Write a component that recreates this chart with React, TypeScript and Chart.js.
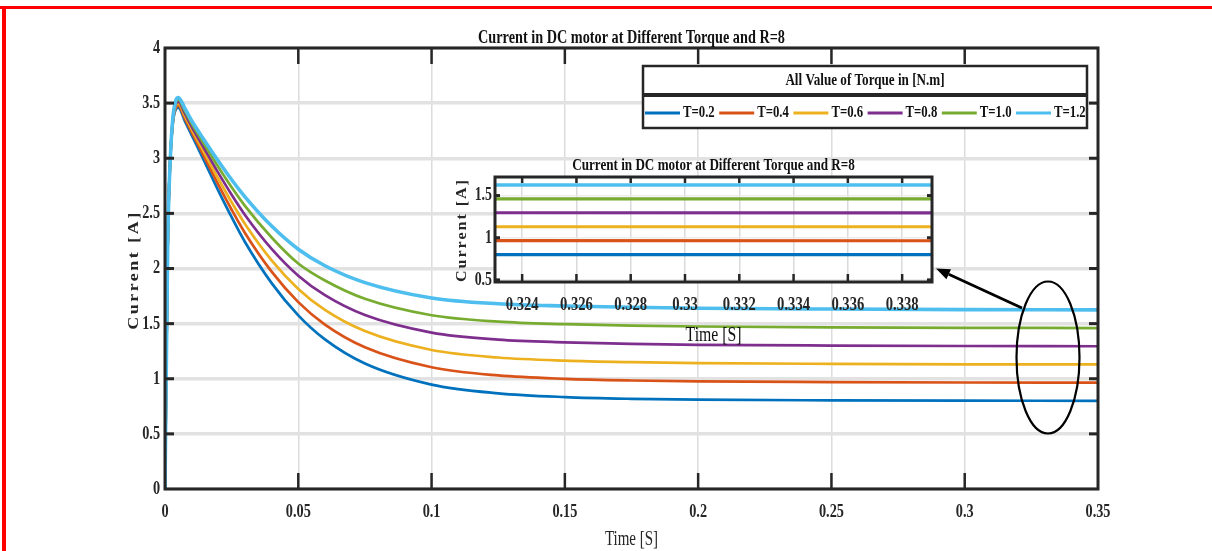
import React, { useEffect, useRef } from 'react';
import { Chart, registerables } from 'chart.js';

Chart.register(...registerables);

// ---------------- DATA ----------------
const timeS = [0, 0.001, 0.002, 0.003, 0.004, 0.005, 0.0075, 0.01, 0.015, 0.02, 0.025, 0.03, 0.04, 0.05, 0.06, 0.075, 0.1, 0.125, 0.15, 0.175, 0.2, 0.25, 0.3, 0.35];
const currentT02 = [0, 2.2, 3.0, 3.33, 3.44, 3.46, 3.335, 3.21, 2.96, 2.706, 2.465, 2.24, 1.867, 1.575, 1.357, 1.138, 0.947, 0.868, 0.834, 0.818, 0.81, 0.804, 0.801, 0.8];
const currentT04 = [0, 2.2, 3.0, 3.34, 3.456, 3.478, 3.358, 3.236, 2.999, 2.76, 2.533, 2.322, 1.971, 1.695, 1.491, 1.285, 1.104, 1.03, 0.999, 0.984, 0.976, 0.97, 0.966, 0.964];
const currentT06 = [0, 2.2, 3.0, 3.35, 3.472, 3.496, 3.381, 3.262, 3.038, 2.814, 2.601, 2.404, 2.074, 1.815, 1.624, 1.432, 1.261, 1.193, 1.164, 1.15, 1.142, 1.135, 1.131, 1.13];
const currentT08 = [0, 2.2, 3.0, 3.36, 3.488, 3.514, 3.404, 3.288, 3.077, 2.867, 2.669, 2.486, 2.178, 1.935, 1.758, 1.578, 1.419, 1.355, 1.33, 1.316, 1.308, 1.301, 1.297, 1.295];
const currentT10 = [0, 2.2, 3.0, 3.37, 3.504, 3.532, 3.427, 3.314, 3.116, 2.921, 2.737, 2.568, 2.281, 2.045, 1.891, 1.725, 1.576, 1.518, 1.495, 1.482, 1.474, 1.466, 1.462, 1.46];
const currentT12 = [0, 2.2, 3.0, 3.38, 3.52, 3.55, 3.45, 3.34, 3.155, 2.975, 2.805, 2.65, 2.385, 2.175, 2.025, 1.872, 1.733, 1.68, 1.66, 1.648, 1.64, 1.632, 1.627, 1.625];

const torqueLabels = ['T=0.2', 'T=0.4', 'T=0.6', 'T=0.8', 'T=1.0', 'T=1.2'];
const seriesColors = ['#0072BD', '#D95319', '#EDB120', '#7E2F8E', '#77AC30', '#4DBEEE'];

const xTicksMain = [0, 0.05, 0.1, 0.15, 0.2, 0.25, 0.3, 0.35];
const xTickLabelsMain = ['0', '0.05', '0.1', '0.15', '0.2', '0.25', '0.3', '0.35'];
const yTicksMain = [0, 0.5, 1, 1.5, 2, 2.5, 3, 3.5, 4];
const yTickLabelsMain = ['0', '0.5', '1', '1.5', '2', '2.5', '3', '3.5', '4'];

const xTicksInset = [0.324, 0.326, 0.328, 0.33, 0.332, 0.334, 0.336, 0.338];
const xTickLabelsInset = ['0.324', '0.326', '0.328', '0.33', '0.332', '0.334', '0.336', '0.338'];
const yTicksInset = [0.5, 1, 1.5];
const yTickLabelsInset = ['0.5', '1', '1.5'];

const chartTitle = 'Current in DC motor at Different Torque and R=8';
const xAxisTitle = 'Time [S]';
const yAxisTitle = 'Current [A]';
const legendTitle = 'All Value of Torque in [N.m]';

// ---------------- DRAW HELPERS ----------------
const W = 1212;
const H = 551;
const SX = 0.75;
const FONT = '"Liberation Serif", "Times New Roman", serif';
const AX = '#262626';

type TOpts = { bold?: boolean; align?: CanvasTextAlign; baseline?: CanvasTextBaseline; rot?: number; ls?: number; color?: string; sx?: number };

function drawText(ctx: CanvasRenderingContext2D, s: string, x: number, y: number, size: number, o: TOpts = {}) {
  ctx.save();
  ctx.translate(x, y);
  ctx.scale(o.sx ?? SX, 1);
  if (o.rot) ctx.rotate(o.rot);
  ctx.font = `${o.bold ? 'bold ' : ''}${size}px ${FONT}`;
  ctx.textAlign = o.align ?? 'center';
  ctx.textBaseline = o.baseline ?? 'middle';
  (ctx as any).letterSpacing = `${o.ls ?? 0}px`;
  ctx.fillStyle = o.color ?? '#111';
  ctx.fillText(s, 0, 0);
  ctx.restore();
}

function line(ctx: CanvasRenderingContext2D, x1: number, y1: number, x2: number, y2: number, lw: number, color: string) {
  ctx.save();
  ctx.beginPath();
  ctx.moveTo(x1, y1);
  ctx.lineTo(x2, y2);
  ctx.lineWidth = lw;
  ctx.strokeStyle = color;
  ctx.stroke();
  ctx.restore();
}

function makeDatasets(width: number, lastWidth: number) {
  const all = [currentT02, currentT04, currentT06, currentT08, currentT10, currentT12];
  return all.map((vals, i) => ({
    label: torqueLabels[i],
    data: timeS.map((t, j) => ({ x: t, y: vals[j] })),
    borderColor: seriesColors[i],
    backgroundColor: seriesColors[i],
    borderWidth: i === 5 ? lastWidth : width,
    pointRadius: 0,
    cubicInterpolationMode: 'monotone' as const,
    fill: false,
    order: 5 - i,
  }));
}

const mainDecor = {
  id: 'mainDecor',
  afterDraw(chart: any) {
    const ctx: CanvasRenderingContext2D = chart.ctx;
    const { left, right, top, bottom } = chart.chartArea;
    const xs = chart.scales.x;
    const ys = chart.scales.y;

    // red page frame
    ctx.save();
    ctx.fillStyle = '#ff0000';
    ctx.fillRect(0, 6, W, 3);
    ctx.fillRect(2, 6, 4, H - 6);
    ctx.restore();

    // tick marks
    xTicksMain.forEach((v, i) => {
      if (i === 0 || i === xTicksMain.length - 1) return;
      const px = xs.getPixelForValue(v);
      line(ctx, px, bottom, px, bottom - 16, 2.5, AX);
      line(ctx, px, top, px, top + 16, 2.5, AX);
    });
    yTicksMain.forEach((v, i) => {
      if (i === 0 || i === yTicksMain.length - 1) return;
      const py = ys.getPixelForValue(v);
      line(ctx, left, py, left + 9, py, 3, AX);
      line(ctx, right, py, right - 9, py, 3, AX);
    });

    // frame
    ctx.save();
    ctx.lineWidth = 3;
    ctx.strokeStyle = AX;
    ctx.strokeRect(left, top, right - left, bottom - top);
    ctx.restore();

    // tick labels
    xTicksMain.forEach((v, i) => {
      drawText(ctx, xTickLabelsMain[i], xs.getPixelForValue(v), 512, 19, { bold: true, color: AX });
    });
    yTicksMain.forEach((v, i) => {
      drawText(ctx, yTickLabelsMain[i], 160, ys.getPixelForValue(v), 19, { bold: true, align: 'right', color: AX });
    });

    // titles
    drawText(ctx, chartTitle, (left + right) / 2, 38, 19, { bold: true });
    drawText(ctx, xAxisTitle, (left + right) / 2, 540, 20, { color: AX });
    drawText(ctx, yAxisTitle, 134, 270, 18, { bold: true, rot: -Math.PI / 2, ls: 2.5, color: AX, sx: 0.85 });

    // legend
    const lx = 643, ly = 66, lw = 444, lh = 62;
    ctx.save();
    ctx.fillStyle = '#fff';
    ctx.fillRect(lx, ly, lw, lh);
    ctx.lineWidth = 2.5;
    ctx.strokeStyle = AX;
    ctx.strokeRect(lx, ly, lw, lh);
    ctx.fillStyle = AX;
    ctx.fillRect(lx, 93, lw, 4);
    ctx.restore();
    drawText(ctx, legendTitle, lx + lw / 2, 80, 17.5, { bold: true });
    torqueLabels.forEach((lab, i) => {
      const x0 = 645 + i * 74.2;
      line(ctx, x0, 113, x0 + 35, 113, 3, seriesColors[i]);
      drawText(ctx, lab, x0 + 38, 113, 17, { bold: true, align: 'left' });
    });

    // ellipse and arrow
    ctx.save();
    ctx.beginPath();
    ctx.ellipse(1048, 357.5, 31.5, 76, 0, 0, Math.PI * 2);
    ctx.lineWidth = 2.2;
    ctx.strokeStyle = '#000';
    ctx.stroke();
    const sx0 = 1022, sy0 = 308, tx = 936, ty = 268.5;
    const dx = tx - sx0, dy = ty - sy0;
    const len = Math.hypot(dx, dy);
    const ux = dx / len, uy = dy / len;
    const hl = 14, hw = 5.5;
    const bx = tx - ux * hl, by = ty - uy * hl;
    ctx.beginPath();
    ctx.moveTo(sx0, sy0);
    ctx.lineTo(bx, by);
    ctx.lineWidth = 2.8;
    ctx.stroke();
    ctx.beginPath();
    ctx.moveTo(tx, ty);
    ctx.lineTo(bx - uy * hw, by + ux * hw);
    ctx.lineTo(bx + uy * hw, by - ux * hw);
    ctx.closePath();
    ctx.fillStyle = '#000';
    ctx.fill();
    ctx.restore();
  },
};

const insetDecor = {
  id: 'insetDecor',
  beforeDraw(chart: any) {
    const ctx: CanvasRenderingContext2D = chart.ctx;
    const { left, right, top, bottom } = chart.chartArea;
    ctx.save();
    ctx.fillStyle = '#fff';
    ctx.fillRect(left, top, right - left, bottom - top);
    ctx.restore();
  },
  afterDraw(chart: any) {
    const ctx: CanvasRenderingContext2D = chart.ctx;
    const { left, right, top, bottom } = chart.chartArea;
    const xs = chart.scales.x;
    const ys = chart.scales.y;

    xTicksInset.forEach((v) => {
      const px = xs.getPixelForValue(v);
      line(ctx, px, bottom, px, bottom - 8, 2.5, AX);
      line(ctx, px, top, px, top + 6, 2.5, AX);
    });
    yTicksInset.forEach((v) => {
      const py = ys.getPixelForValue(v);
      line(ctx, left, py, left + 5, py, 3, AX);
      line(ctx, right, py, right - 5, py, 3, AX);
    });

    ctx.save();
    ctx.lineWidth = 3;
    ctx.strokeStyle = AX;
    ctx.strokeRect(left, top, right - left, bottom - top);
    ctx.restore();

    xTicksInset.forEach((v, i) => {
      drawText(ctx, xTickLabelsInset[i], xs.getPixelForValue(v), 305, 19.5, { bold: true, color: AX });
    });
    yTicksInset.forEach((v, i) => {
      drawText(ctx, yTickLabelsInset[i], 492, ys.getPixelForValue(v), 18.5, { bold: true, align: 'right', color: AX });
    });

    drawText(ctx, chartTitle, (left + right) / 2, 165, 17.5, { bold: true });
    drawText(ctx, xAxisTitle, (left + right) / 2, 335, 21, { color: '#111' });
    drawText(ctx, yAxisTitle, 462, 230, 16, { bold: true, rot: -Math.PI / 2, ls: 2, color: AX, sx: 0.85 });
  },
};

export default function App() {
  const mainRef = useRef<HTMLCanvasElement | null>(null);
  const insetRef = useRef<HTMLCanvasElement | null>(null);

  useEffect(() => {
    if (!mainRef.current || !insetRef.current) return;

    const main = new Chart(mainRef.current, {
      type: 'line',
      data: { datasets: makeDatasets(2.7, 3.6) as any },
      options: {
        responsive: false,
        animation: false,
        events: [],
        layout: { padding: { left: 165, top: 48, right: 114, bottom: 62 } },
        plugins: { legend: { display: false }, title: { display: false }, tooltip: { enabled: false } },
        scales: {
          x: {
            type: 'linear',
            min: 0,
            max: 0.35,
            afterBuildTicks: (s: any) => { s.ticks = xTicksMain.map((v) => ({ value: v })); },
            afterFit: (s: any) => { s.height = 0; },
            ticks: { display: false },
            border: { display: false },
            grid: { color: '#dcdcdc', lineWidth: 1.5, drawTicks: false },
          },
          y: {
            type: 'linear',
            min: 0,
            max: 4,
            afterBuildTicks: (s: any) => { s.ticks = yTicksMain.map((v) => ({ value: v })); },
            afterFit: (s: any) => { s.width = 0; },
            ticks: { display: false },
            border: { display: false },
            grid: { color: '#e2e2e2', lineWidth: 3.5, drawTicks: false },
          },
        },
      } as any,
      plugins: [mainDecor],
    });

    const inset = new Chart(insetRef.current, {
      type: 'line',
      data: { datasets: makeDatasets(3.2, 3.4) as any },
      options: {
        responsive: false,
        animation: false,
        events: [],
        layout: { padding: { left: 495, top: 177, right: 280, bottom: 269 } },
        plugins: { legend: { display: false }, title: { display: false }, tooltip: { enabled: false } },
        scales: {
          x: {
            type: 'linear',
            min: 0.323,
            max: 0.3391,
            afterBuildTicks: (s: any) => { s.ticks = xTicksInset.map((v) => ({ value: v })); },
            afterFit: (s: any) => { s.height = 0; },
            ticks: { display: false },
            border: { display: false },
            grid: { color: '#dadada', lineWidth: 1.5, drawTicks: false },
          },
          y: {
            type: 'linear',
            min: 0.475,
            max: 1.72,
            afterBuildTicks: (s: any) => { s.ticks = yTicksInset.map((v) => ({ value: v })); },
            afterFit: (s: any) => { s.width = 0; },
            ticks: { display: false },
            border: { display: false },
            grid: { color: '#ececec', lineWidth: 1.5, drawTicks: false },
          },
        },
      } as any,
      plugins: [insetDecor],
    });

    return () => {
      main.destroy();
      inset.destroy();
    };
  }, []);

  return (
    <div style={{ position: 'absolute', left: 0, top: 0, width: W, height: H, background: '#fff' }}>
      <canvas ref={mainRef} width={W} height={H} style={{ position: 'absolute', left: 0, top: 0 }} />
      <canvas ref={insetRef} width={W} height={H} style={{ position: 'absolute', left: 0, top: 0 }} />
    </div>
  );
}
